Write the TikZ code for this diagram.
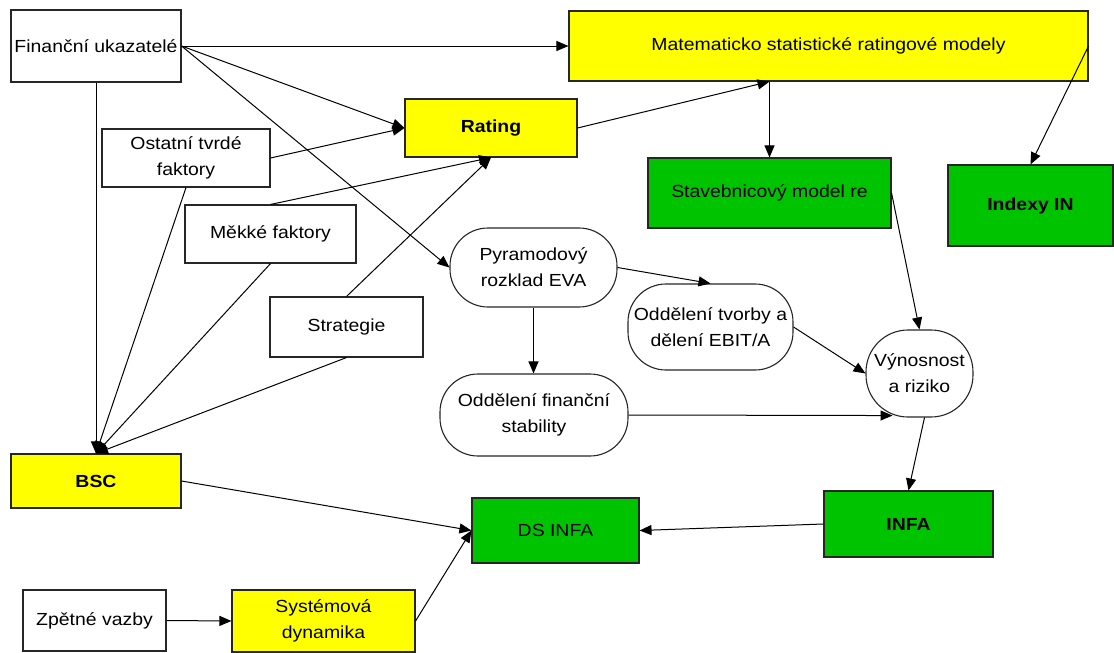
\documentclass[tikz,border=0pt]{standalone}
\usepackage{fontspec}
\setmainfont{Liberation Sans}[FakeStretch=1.11]
\usetikzlibrary{arrows.meta,calc}

\definecolor{boxyellow}{RGB}{255,255,0}
\definecolor{boxgreen}{RGB}{0,195,0}

\begin{document}
\begin{tikzpicture}[x=1pt,y=-1pt,
    every node/.style={font=\fontsize{17.5}{26}\selectfont,align=center,inner sep=0pt},
    plain/.style={rectangle,draw=black!85,line width=1.1pt},
    yel/.style={plain,fill=boxyellow},
    grn/.style={plain,fill=boxgreen},
    oval/.style={plain,rounded corners=38pt},
    conn/.style={line width=1pt,-{Triangle[length=12pt,width=10pt]}}]
    \useasboundingbox (0,0) rectangle (1114,653);

    \node[plain,minimum width=170pt,minimum height=72pt] (fin) at (96,46) {Finanční ukazatelé};
    \node[yel,minimum width=519pt,minimum height=70pt] (mat) at (828.5,46) {Matematicko statistické ratingové modely};
    \node[yel,minimum width=172pt,minimum height=58pt,font=\fontsize{17.5}{26}\selectfont\bfseries] (rating) at (491,128) {Rating};
    \node[plain,minimum width=168pt,minimum height=58pt] (ost) at (186,158) {Ostatní tvrdé\\faktory};
    \node[plain,minimum width=171pt,minimum height=58pt] (mek) at (270.5,234) {Měkké faktory};
    \node[plain,minimum width=153pt,minimum height=60pt] (strat) at (346.5,327) {Strategie};
    \node[grn,minimum width=243pt,minimum height=70pt] (stav) at (769.5,193) {Stavebnicový model re};
    \node[grn,minimum width=165pt,minimum height=81pt,font=\fontsize{17.5}{26}\selectfont\bfseries] (idx) at (1030.5,205.5) {Indexy IN};
    \node[oval,minimum width=167pt,minimum height=79pt] (pyr) at (533.5,267.5) {Pyramodový\\rozklad EVA};
    \node[oval,minimum width=165pt,minimum height=86pt] (odt) at (710.5,327) {Oddělení tvorby a\\dělení EBIT/A};
    \node[plain,rounded corners=42pt,minimum width=107pt,minimum height=87pt] (vyn) at (919.5,373.5) {Výnosnost\\a riziko};
    \node[oval,minimum width=188pt,minimum height=82pt] (ofs) at (534,415) {Oddělení finanční\\stability};
    \node[yel,minimum width=170pt,minimum height=54pt,font=\fontsize{17.5}{26}\selectfont\bfseries] (bsc) at (96,481) {BSC};
    \node[grn,minimum width=167pt,minimum height=65pt] (ds) at (555.5,530.5) {DS INFA};
    \node[grn,minimum width=169pt,minimum height=66pt,font=\fontsize{17.5}{26}\selectfont\bfseries] (infa) at (908.5,524) {INFA};
    \node[plain,minimum width=143pt,minimum height=61pt] (zpet) at (94.5,620.5) {Zpětné vazby};
    \node[yel,minimum width=183pt,minimum height=62pt] (sys) at (323.5,621) {Systémová\\dynamika};

    \coordinate (matin) at (mat.south -| stav.north);

    \draw[conn] (fin.east) -- (mat.west);
    \draw[conn] (fin.east) -- (rating.west);
    \draw[conn] (fin.east) -- (pyr.west);
    \draw[conn] (fin.south) -- (bsc.north);
    \draw[conn] (ost.east) -- (rating.west);
    \draw[conn] (ost.south) -- (bsc.north);
    \draw[conn] (mek.north) -- (rating.south);
    \draw[conn] (mek.south) -- (bsc.north);
    \draw[conn] (strat.north) -- (rating.south);
    \draw[conn] (strat.south) -- (bsc.north);
    \draw[conn] (rating.east) -- (matin);
    \draw[conn] (matin) -- (stav.north);
    \draw[conn] (mat.east) -- (idx.north);
    \draw[conn] (stav.east) -- (vyn.north);
    \draw[conn] (pyr.east) -- (odt.north);
    \draw[conn] (pyr.south) -- (pyr.south |- ofs.north);
    \draw[conn] (odt.east) -- (vyn.west);
    \draw[conn] (ofs.east) -- ($(vyn.south)+(-27,-2)$);
    \draw[conn] ($(vyn.south)+(5,0)$) -- (infa.north);
    \draw[conn] (bsc.east) -- (ds.west);
    \draw[conn] (sys.east) -- (ds.west);
    \draw[conn] (infa.west) -- (ds.east);
    \draw[conn] (zpet.east) -- (sys.west);
\end{tikzpicture}
\end{document}
